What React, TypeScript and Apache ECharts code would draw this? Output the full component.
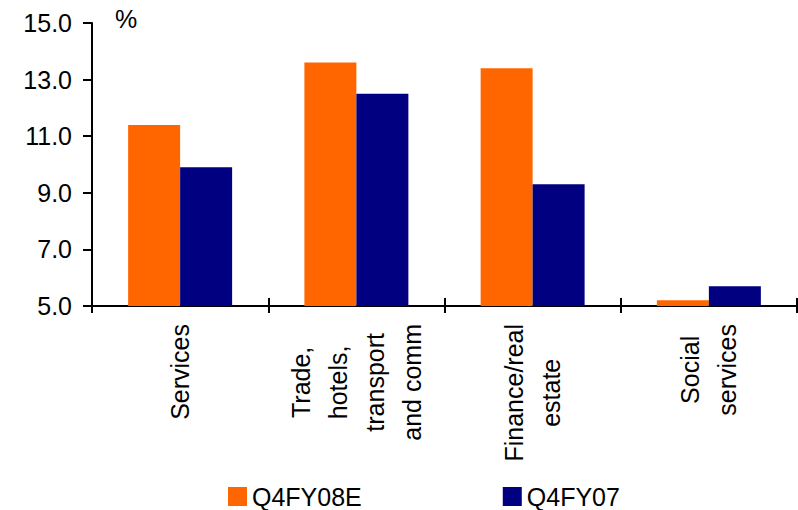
import React, { useEffect, useRef } from "react";
import * as echarts from "echarts";

// Sector growth, % (y-axis starts at 5.0)
const categories = [
  "Services",
  "Trade,\nhotels,\ntransport\nand comm",
  "Finance/real\nestate",
  "Social\nservices",
];
const seriesNames = ["Q4FY08E", "Q4FY07"];
const q4fy08e = [11.4, 13.6, 13.4, 5.2];
const q4fy07 = [9.9, 12.5, 9.3, 5.7];
const yTicks = { min: 5, max: 15, interval: 2 };

const FONT = "Arial, 'Liberation Sans', Helvetica, sans-serif";
const ORANGE = "#FF6600";
const NAVY = "#000080";

export default function App() {
  const ref = useRef<HTMLDivElement>(null);

  useEffect(() => {
    if (!ref.current) return;
    const chart = echarts.init(ref.current, undefined, { renderer: "svg" });

    // each line of a category name is centred inside its rotated label block
    const catLabel = (v: string) =>
      v
        .split("\n")
        .map((l) => `{c|${l}}`)
        .join("\n");

    chart.setOption({
      animation: false,
      backgroundColor: "#ffffff",
      textStyle: { fontFamily: FONT },
      grid: {
        left: 92,
        right: 1,
        top: 23,
        bottom: 204,
        containLabel: false,
        outerBoundsMode: "none",
      },
      legend: {
        data: seriesNames,
        left: 228,
        top: 484,
        padding: 0,
        itemWidth: 19,
        itemHeight: 19,
        itemGap: 141,
        icon: "rect",
        textStyle: {
          fontFamily: FONT,
          fontSize: 25,
          lineHeight: 25,
          color: "#000000",
        },
      },
      xAxis: [
        {
          type: "category",
          data: categories,
          position: "bottom",
          boundaryGap: true,
          axisLine: { show: true, lineStyle: { color: "#000000", width: 2 } },
          axisTick: {
            show: true,
            inside: false,
            length: 7,
            alignWithLabel: false,
            lineStyle: { color: "#000000", width: 2 },
          },
          axisLabel: {
            show: true,
            interval: 0,
            rotate: 90,
            margin: 18,
            formatter: catLabel,
            rich: {
              c: {
                align: "center",
                fontFamily: FONT,
                fontSize: 25,
                lineHeight: 37,
                color: "#000000",
              },
            },
          },
          splitLine: { show: false },
        },
        {
          // inner half of the cross-style category ticks
          type: "category",
          data: categories,
          position: "bottom",
          boundaryGap: true,
          axisLine: { show: false },
          axisTick: {
            show: true,
            inside: true,
            length: 8,
            lineStyle: { color: "#000000", width: 2 },
          },
          axisLabel: { show: false },
          splitLine: { show: false },
        },
      ],
      yAxis: {
        type: "value",
        min: yTicks.min,
        max: yTicks.max,
        interval: yTicks.interval,
        axisLine: { show: true, lineStyle: { color: "#000000", width: 2 } },
        axisTick: {
          show: true,
          inside: false,
          length: 9,
          lineStyle: { color: "#000000", width: 2 },
        },
        axisLabel: {
          show: true,
          margin: 20,
          fontFamily: FONT,
          fontSize: 25,
          color: "#000000",
          formatter: (v: number) => v.toFixed(1),
        },
        splitLine: { show: false },
      },
      graphic: [
        {
          type: "text",
          x: 115,
          y: 18.5,
          style: {
            text: "%",
            fontFamily: FONT,
            fontSize: 25,
            fill: "#000000",
            textVerticalAlign: "middle",
            textAlign: "left",
          },
        },
      ],
      series: [
        {
          name: seriesNames[0],
          type: "bar",
          data: q4fy08e,
          xAxisIndex: 0,
          barGap: "0%",
          barCategoryGap: "41%",
          itemStyle: { color: ORANGE },
        },
        {
          name: seriesNames[1],
          type: "bar",
          data: q4fy07,
          xAxisIndex: 0,
          barGap: "0%",
          barCategoryGap: "41%",
          itemStyle: { color: NAVY },
        },
      ],
    });

    return () => chart.dispose();
  }, []);

  return (
    <div
      ref={ref}
      style={{ position: "fixed", left: 0, top: 0, width: 798, height: 510 }}
    />
  );
}
